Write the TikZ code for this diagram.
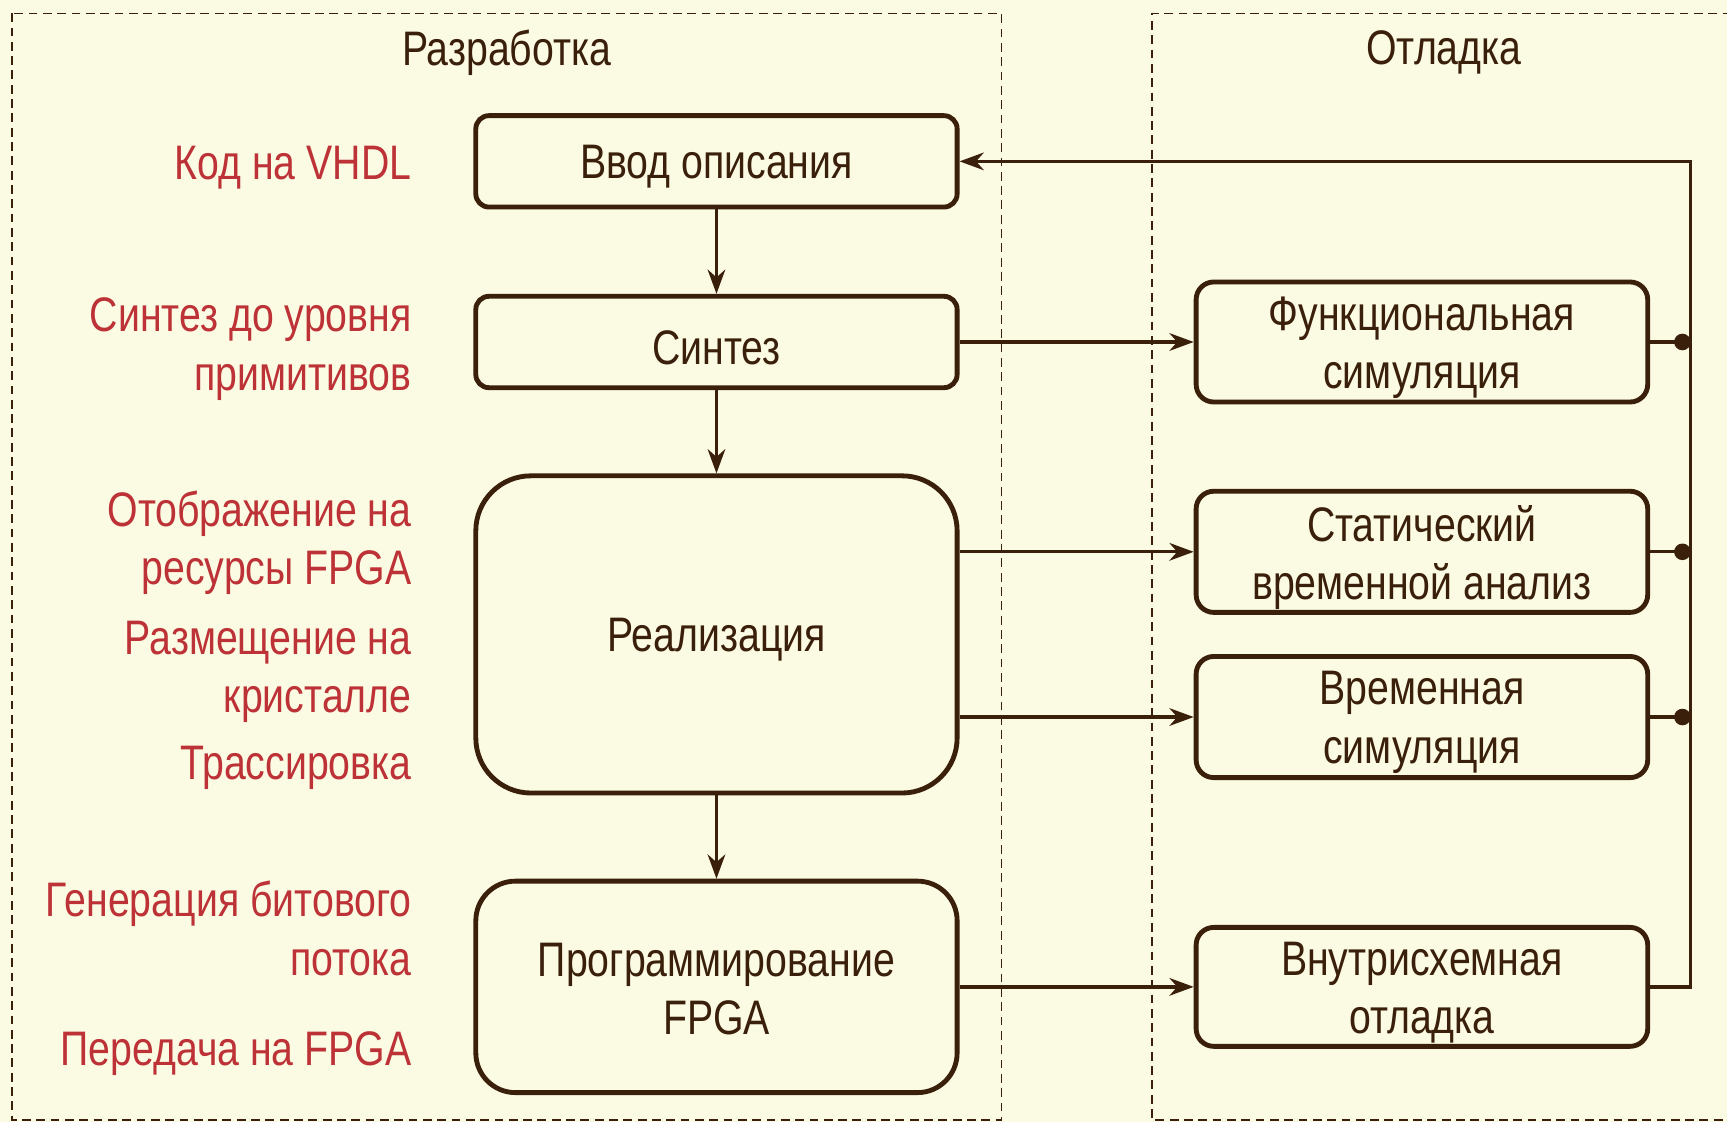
\documentclass[tikz,border=0pt]{standalone}
\usepackage{fontspec}
\setmainfont{Liberation Sans}[FakeStretch=0.81]
\usetikzlibrary{arrows.meta}
\definecolor{bg}{HTML}{FBFAE3}
\definecolor{ink}{HTML}{3A1F0B}
\definecolor{redt}{HTML}{BD3236}
\begin{document}
\begin{tikzpicture}[x=0.5pt,y=-0.5pt,
  txt/.style={font=\fontsize{22}{26.5}\selectfont},
  box/.style={draw=ink, line width=2.2pt, inner sep=0pt, fill=bg},
  btxt/.style={txt, text=ink, align=center, inner sep=0pt, yshift=-2.5pt},
  lab/.style={txt, text=redt, align=right, anchor=east, inner sep=0pt},
  title/.style={txt, text=ink, inner sep=0pt},
  frame/.style={draw=ink, line width=0.6pt, dash pattern=on 4pt off 2.5pt},
  conn/.style={draw=ink, line width=1.5pt},
  arr/.style={conn, -{Stealth[length=11pt,width=8pt,inset=3.5pt]}},
  dotl/.style={conn, -{Circle[length=7.5pt]}}
]
\fill[bg] (0,0) rectangle (1568,1019);
\useasboundingbox (0,0) rectangle (1568,1019);

% frames
\draw[frame] (11,12) rectangle (909,1017);
\draw[frame] (1572,12) -- (1046,12) -- (1046,1017) -- (1572,1017);

% titles
\node[title] (t1) at (460,48) {Разработка};
\node[title] (t2) at (1311,48) {Отладка};

% left boxes
\node[box, minimum width=218.5pt, minimum height=41.5pt, rounded corners=6pt,
  label={[btxt]center:Ввод описания}] (in) at (650.5,146.5) {};
\node[box, minimum width=218.5pt, minimum height=41.5pt, rounded corners=6pt,
  label={[btxt]center:Синтез}] (syn) at (650.5,310.5) {};
\node[box, minimum width=218.5pt, minimum height=144pt, rounded corners=25pt,
  label={[btxt]center:Реализация}] (impl) at (650.5,576) {};
\node[box, minimum width=218.5pt, minimum height=96pt, rounded corners=18pt,
  label={[btxt, yshift=1.5pt]center:Программирование\\FPGA}] (prog) at (650.5,896) {};

% right boxes
\node[box, minimum width=205pt, minimum height=54.5pt, rounded corners=8pt,
  label={[btxt]center:Функциональная\\симуляция}] (func) at (1291,310.5) {};
\node[box, minimum width=205pt, minimum height=55pt, rounded corners=8pt,
  label={[btxt]center:Статический\\временной анализ}] (sta) at (1291,501) {};
\node[box, minimum width=205pt, minimum height=55pt, rounded corners=8pt,
  label={[btxt]center:Временная\\симуляция}] (tsim) at (1291,651) {};
\node[box, minimum width=205pt, minimum height=54pt, rounded corners=8pt,
  label={[btxt]center:Внутрисхемная\\отладка}] (ice) at (1291,896) {};

% red labels
\node[lab] (l1) at (374,152) {Код на VHDL};
\node[lab] (l2) at (374,317) {Синтез до уровня\\примитивов};
\node[lab] (l3) at (374,493) {Отображение на\\ресурсы FPGA};
\node[lab] (l4) at (374,610) {Размещение на\\кристалле};
\node[lab] (l5) at (374,697) {Трассировка};
\node[lab] (l6) at (374,843) {Генерация битового\\потока};
\node[lab] (l7) at (374,957) {Передача на FPGA};

% vertical flow
\draw[arr] (in) -- (syn);
\draw[arr] (syn) -- (impl);
\draw[arr] (impl) -- (prog);

% to debug boxes
\draw[arr] (syn.east) -- (func.west);
\draw[arr] (impl.east |- sta.west) -- (sta.west);
\draw[arr] (impl.east |- tsim.west) -- (tsim.west);
\draw[arr] (prog.east) -- (ice.west);

% bus and feedback
\coordinate (bt) at (1535,146.5);
\draw[arr] (ice.east) -| (bt) -- (in.east);
\draw[dotl] (func.east) -- (func.east -| bt);
\draw[dotl] (sta.east) -- (sta.east -| bt);
\draw[dotl] (tsim.east) -- (tsim.east -| bt);
\end{tikzpicture}
\end{document}
